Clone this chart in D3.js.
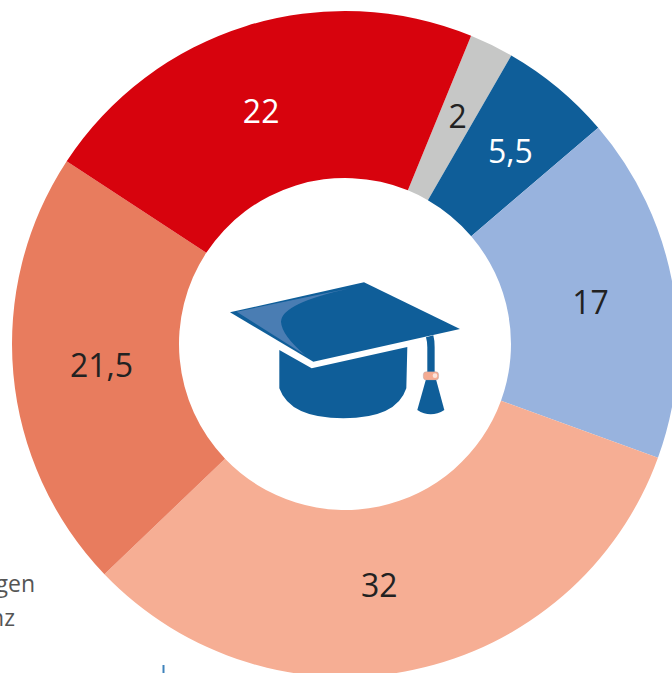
<!DOCTYPE html>
<html>
<head>
<meta charset="utf-8">
<script src="https://cdn.jsdelivr.net/npm/d3@7"></script>
<style>
html, body { margin: 0; padding: 0; background: #fff; overflow: hidden; }
svg { display: block; }
text { font-family: "Open Sans", sans-serif; }
</style>
</head>
<body>
<div id="chart"></div>
<script>
const categories = ["grey", "blue", "lightblue", "peach", "orange", "red"];
const labels = ["2", "5,5", "17", "32", "21,5", "22"];
// slice sizes as measured from the arcs, the printed labels are rounded
const values = [2.14, 5.43, 16.8, 32.3, 21.4, 21.93];
const colors = ["#c6c7c6", "#0f5e99", "#98b3de", "#f6ae94", "#e87c5e", "#d7030d"];
const labelColors = ["#222", "#fff", "#222", "#222", "#222", "#fff"];
// labels don't sit exactly on the centroid in the original
const nudgeX = [3, 6, 0, -17, 5, -10];
const nudgeY = [-3, 0, 3, -2, -1, 6];

const width = 672, height = 673;
const cx = 345, cy = 344;
const startAngle = 22.25 * Math.PI / 180;

const svg = d3.select("#chart").append("svg")
    .attr("width", width)
    .attr("height", height);

const pie = d3.pie().sort(null)
    .startAngle(startAngle)
    .endAngle(startAngle + 2 * Math.PI);
const arc = d3.arc().innerRadius(166).outerRadius(333);

const g = svg.append("g").attr("transform", `translate(${cx},${cy})`);

const slices = pie(values);

g.selectAll("path")
    .data(slices)
    .enter()
    .append("path")
    .attr("d", arc)
    .attr("fill", (d, i) => colors[i]);

g.selectAll("text")
    .data(slices)
    .enter()
    .append("text")
    .attr("x", (d, i) => arc.centroid(d)[0] + nudgeX[i])
    .attr("y", (d, i) => arc.centroid(d)[1] + nudgeY[i])
    .attr("dy", "0.35em")
    .attr("text-anchor", "middle")
    .attr("font-size", 32)
    .attr("fill", (d, i) => labelColors[i])
    .text((d, i) => labels[i]);

// graduation cap, traced at 3x
const cap = svg.append("g").attr("transform", "translate(210,260) scale(0.3333)");
const capBlue = colors[1];

cap.append("path")
    .attr("d", "M208,270 L305,325 L592,261 L589,385 Q560,475 400,475 Q240,475 208,385 Z")
    .attr("fill", capBlue);
cap.append("path")
    .attr("d", "M60,157 L462,67 L750,207 L310,305 Z")
    .attr("fill", capBlue);
cap.append("path")
    .attr("d", "M80,155 L420,85 Q215,130 213,185 Q215,225 285,285 Z")
    .attr("fill", "#4a7db3");
cap.append("path")
    .attr("d", "M648,232 L670,226 Q674,240 674,262 L674,338 L652,338 L652,262 Q652,245 648,232 Z")
    .attr("fill", capBlue);
cap.append("path")
    .attr("d", "M648,358 L678,358 L703,450 Q662,476 622,450 Z")
    .attr("fill", capBlue);
cap.append("rect")
    .attr("x", 640).attr("y", 335)
    .attr("width", 46).attr("height", 25)
    .attr("rx", 9)
    .attr("fill", "#f4ab92")
    .attr("stroke", "#9a9aa8")
    .attr("stroke-width", 1);
cap.append("circle")
    .attr("cx", 675).attr("cy", 347)
    .attr("r", 7)
    .attr("fill", "#fbe3da");

// cut-off legend text at the left edge
svg.append("text")
    .attr("x", 35).attr("y", 592)
    .attr("text-anchor", "end")
    .attr("font-size", 23)
    .attr("fill", "#555")
    .text("gen");
svg.append("text")
    .attr("x", 15).attr("y", 626)
    .attr("text-anchor", "end")
    .attr("font-size", 23)
    .attr("fill", "#555")
    .text("nz");

svg.append("line")
    .attr("x1", 163.5).attr("x2", 163.5)
    .attr("y1", 665).attr("y2", 673)
    .attr("stroke", "#3f83bb")
    .attr("stroke-width", 2);
</script>
</body>
</html>
